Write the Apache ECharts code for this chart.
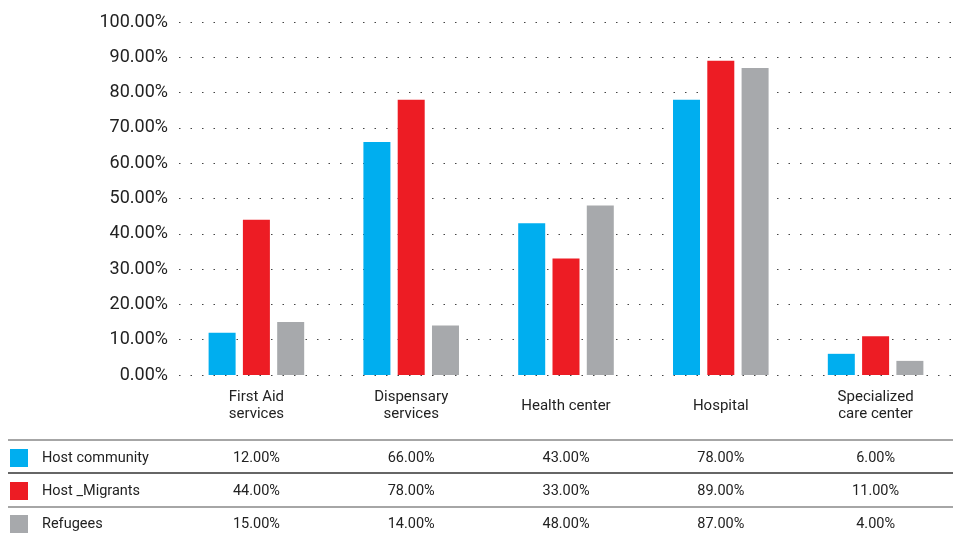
<!DOCTYPE html>
<html>
<head>
<meta charset="utf-8">
<script src="https://cdn.jsdelivr.net/npm/echarts@6/dist/echarts.min.js"></script>
<style>
html, body { margin: 0; padding: 0; background: #fff; }
#main { width: 953px; height: 536px; }
</style>
</head>
<body>
<div id="main"></div>
<script>
var categories = ['First Aid\nservices', 'Dispensary\nservices', 'Health center', 'Hospital', 'Specialized\ncare center'];
var seriesNames = ['Host community', 'Host _Migrants', 'Refugees'];
var hostCommunity = [12, 66, 43, 78, 6];
var hostMigrants = [44, 78, 33, 89, 11];
var refugees = [15, 14, 48, 87, 4];
var colors = ['#00AEEF', '#ED1C24', '#A7A9AC'];

var allData = [hostCommunity, hostMigrants, refugees];
var fontFam = 'Roboto, sans-serif';

var myChart = echarts.init(document.getElementById('main'));

var series = allData.map(function (d, i) {
  return {
    name: seriesNames[i],
    type: 'bar',
    data: d,
    barWidth: 27,
    barGap: '27%',
    itemStyle: { color: colors[i] }
  };
});

var option = {
  animation: false,
  textStyle: { fontFamily: fontFam },
  grid: { left: 179, width: 778, top: 22, bottom: 161 },
  xAxis: {
    type: 'category',
    data: categories,
    axisLine: { show: false },
    axisTick: { show: false },
    axisLabel: { color: '#222', fontSize: 15, lineHeight: 17, margin: 31, verticalAlign: 'middle' }
  },
  yAxis: {
    type: 'value',
    min: 0,
    max: 100,
    interval: 10,
    axisLabel: {
      color: '#222',
      fontSize: 18,
      margin: 11,
      formatter: function (v) { return v.toFixed(2) + '%'; }
    },
    splitLine: { lineStyle: { color: '#444', width: 1, type: [1.5, 10] } }
  },
  series: series
};
myChart.setOption(option);

// data table under the chart, columns follow the category axis
var rowY = [458, 491, 524];
var lineY = [440, 473, 507];
var lineColor = ['#888', '#333', '#888'];
var graphics = [];
lineY.forEach(function (y, i) {
  graphics.push({
    type: 'line',
    shape: { x1: 8, y1: y, x2: 953, y2: y },
    style: { stroke: lineColor[i], lineWidth: 1.3 }
  });
});
allData.forEach(function (d, i) {
  graphics.push({
    type: 'rect',
    shape: { x: 10, y: rowY[i] - 9, width: 18, height: 18 },
    style: { fill: colors[i] }
  });
  graphics.push({
    type: 'text',
    x: 42, y: rowY[i],
    style: { text: seriesNames[i], fill: '#222', font: '14.5px ' + fontFam, verticalAlign: 'middle' }
  });
  d.forEach(function (v, j) {
    var px = myChart.convertToPixel({ xAxisIndex: 0 }, j);
    graphics.push({
      type: 'text',
      x: px, y: rowY[i],
      style: { text: v.toFixed(2) + '%', fill: '#222', font: '14.5px ' + fontFam, align: 'center', verticalAlign: 'middle' }
    });
  });
});
myChart.setOption({ graphic: graphics });
</script>
</body>
</html>
